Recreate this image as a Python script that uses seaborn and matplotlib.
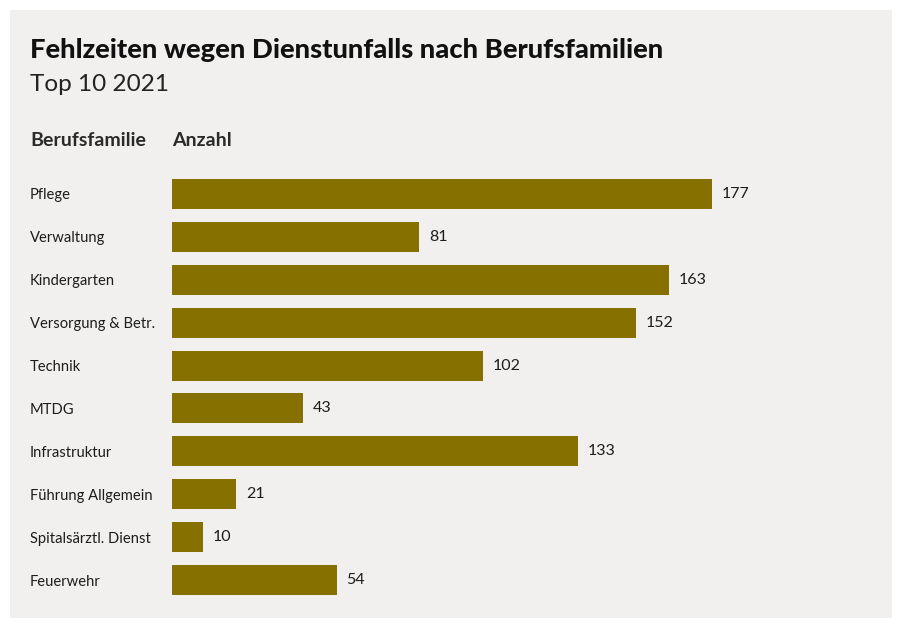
import matplotlib
matplotlib.use("Agg")
import matplotlib.pyplot as plt
import seaborn as sns
import pandas as pd
from matplotlib.patches import Rectangle

categories = ["Pflege", "Verwaltung", "Kindergarten", "Versorgung & Betr.", "Technik",
              "MTDG", "Infrastruktur", "Führung Allgemein", "Spitalsärztl. Dienst", "Feuerwehr"]
values = [177, 81, 163, 152, 102, 43, 133, 21, 10, 54]

title = "Fehlzeiten wegen Dienstunfalls nach Berufsfamilien"
subtitle = "Top 10 2021"
col_label_cat = "Berufsfamilie"
col_label_val = "Anzahl"

df = pd.DataFrame({"Berufsfamilie": categories, "Anzahl": values})

sns.set_theme(style="white")
plt.rcParams["font.family"] = ["Lato", "DejaVu Sans"]

BG = "#f1f0ef"
BAR = "#857000"
TXT = "#1c1c1c"

W, H = 902, 628
PX = 72 / 100  # points per pixel at dpi 100
fig = plt.figure(figsize=(W / 100, H / 100), dpi=100, facecolor="white")
fig.patches.append(Rectangle((10 / W, 10 / H), 882 / W, 608 / H, transform=fig.transFigure,
                             facecolor=BG, edgecolor="none", zorder=-1))

left, right = 172, 872
top, bottom = 172.5, 601.5
ax = fig.add_axes([left / W, 1 - bottom / H, (right - left) / W, (bottom - top) / H])
ax.set_facecolor("none")

sns.barplot(data=df, y="Berufsfamilie", x="Anzahl", orient="h", color=BAR,
            saturation=1, width=0.70, linewidth=0, ax=ax)
ax.set_xlim(0, (right - left) / 3.05)
ax.set_ylim(len(categories) - 0.5, -0.5)
for s in ax.spines.values():
    s.set_visible(False)
ax.set_xticks([])
ax.set_xlabel("")
ax.set_ylabel("")
ax.tick_params(axis="y", length=0, pad=(left - 30) * PX, labelsize=10.6, labelcolor=TXT)
for lbl in ax.get_yticklabels():
    lbl.set_horizontalalignment("left")

ax.bar_label(ax.containers[0], labels=[str(v) for v in values], padding=7,
             fontsize=11.5, color=TXT)

fig.text(30 / W, 1 - 58 / H, title, fontsize=19.7, fontweight="black", color="#111111")
fig.text(30 / W, 1 - 91 / H, subtitle, fontsize=17.5, fontweight="normal", color="#222222")
fig.text(30 / W, 1 - 146 / H, col_label_cat, fontsize=14, fontweight="bold", color="#2a2a2a")
fig.text(172 / W, 1 - 146 / H, col_label_val, fontsize=14, fontweight="bold", color="#2a2a2a")

fig.savefig("out.png", dpi=100, facecolor="white")
